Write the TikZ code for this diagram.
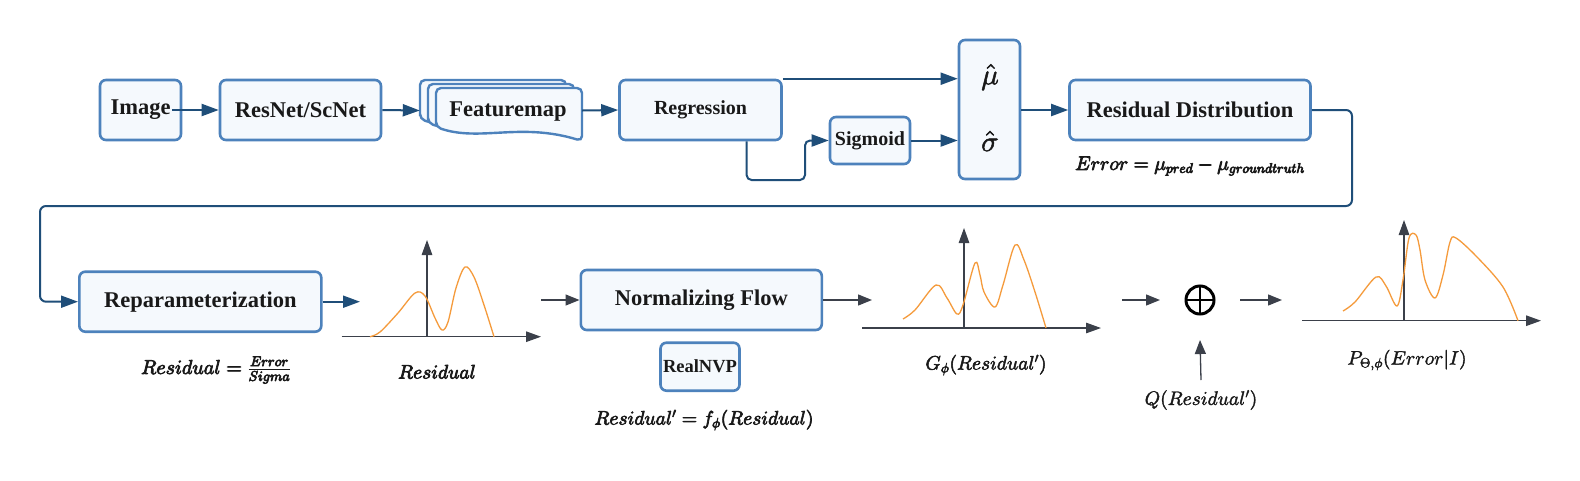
\documentclass[tikz,border=0pt]{standalone}
\usepackage{amsmath}
\usepackage{graphicx}
\usepackage[no-math]{fontspec}
\setmainfont{Liberation Serif}
\DeclareFontShape{OML}{cmm}{m}{it}{<->cmmi10}{}
\DeclareFontShape{OML}{cmm}{b}{it}{<->cmmib10}{}
\DeclareFontShape{OMS}{cmsy}{m}{n}{<->cmsy10}{}
\DeclareFontShape{OMS}{cmsy}{b}{n}{<->cmbsy10}{}
\DeclareFontShape{OMX}{cmex}{m}{n}{<->cmex10}{}
\DeclareFontShape{OT1}{cmr}{m}{n}{<->cmr10}{}
\DeclareFontShape{OT1}{cmr}{bx}{n}{<->cmbx10}{}
\usetikzlibrary{arrows.meta,calc}
\definecolor{boxblue}{RGB}{77,130,188}
\definecolor{boxfill}{RGB}{245,249,253}
\definecolor{arrowblue}{RGB}{31,78,121}
\definecolor{arrowgray}{RGB}{59,64,74}
\definecolor{curveorange}{RGB}{245,155,60}
\definecolor{textdark}{RGB}{25,25,25}
\newcommand{\heavy}[2]{\special{pdf:literal direct 2 Tr #1 w}#2\special{pdf:literal direct 0 Tr}}
\begin{document}
\begin{tikzpicture}[x=1pt,y=-1pt,
  stepbox/.style={draw=boxblue, fill=boxfill, line width=2.6pt, rounded corners=6pt, inner sep=0pt, text=textdark, font=\bfseries\fontsize{22.5}{27}\selectfont},
  smallbox/.style={stepbox, font=\bfseries\fontsize{20}{24}\selectfont},
  bluearrow/.style={draw=arrowblue, line width=2pt, -{Triangle[length=17pt,width=12pt]}},
  grayarrow/.style={draw=arrowgray, line width=1.3pt, -{Triangle[length=14pt,width=11pt]}},
  axisline/.style={draw=arrowgray, line width=1.2pt, -{Triangle[length=15pt,width=10.5pt]}},
  curve/.style={draw=curveorange, line width=1.3pt},
  mathlabel/.style={text=textdark, inner sep=0pt, font=\fontsize{19.5}{24}\selectfont},
  boldlabel/.style={text=textdark, inner sep=0pt, font=\fontsize{19.5}{24}\selectfont},
  docshape/.style={draw=boxblue, fill=boxfill, line width=2.4pt, rounded corners=5pt}
]
\fill[white] (0,0) rectangle (1580,480);
\useasboundingbox (0,0) rectangle (1580,480);

% ---- top row ----
\node[stepbox, minimum width=81pt, minimum height=60pt] (img) at (140.5,110) {Image};
\node[stepbox, minimum width=161pt, minimum height=60pt] (resnet) at (300.5,110) {ResNet/ScNet};

\foreach \dx/\dy in {-16/-8, -8/-4, 0/0} {
  \draw[docshape, shift={(\dx,\dy)}] (436,127) -- (436,88) -- (582,88) -- (582,141)
     .. controls (520,122) and (480,142) .. (436,127) -- cycle;
}
\node[minimum width=162pt, minimum height=61pt, inner sep=0pt] (fm) at (501,110.5) {};
\node[text=textdark, inner sep=0pt, font=\bfseries\fontsize{22.5}{27}\selectfont] (fmtext) at (508,112) {Featuremap};

\node[smallbox, minimum width=162pt, minimum height=60pt] (reg) at (700.5,110) {Regression};
\node[smallbox, minimum width=80pt, minimum height=47pt] (sig) at (870,140.5) {Sigmoid};
\node[stepbox, minimum width=61pt, minimum height=139pt] (ms) at (989.5,109.5) {};
\node[mathlabel, font=\fontsize{29}{32}\selectfont] (muhat) at (990,77) {\heavy{0.5}{$\hat{\mu}$}};
\node[mathlabel, font=\fontsize{29}{32}\selectfont] (sighat) at (990,141) {\heavy{0.5}{$\hat{\sigma}$}};
\node[stepbox, minimum width=241pt, minimum height=60pt] (rd) at (1190,110) {Residual Distribution};
\node[boldlabel] (errf) at (1190,166) {\heavy{0.75}{$Error = \mu_{pred} - \mu_{groundtruth}$}};

% ---- bottom row ----
\node[stepbox, minimum width=242pt, minimum height=60pt] (rp) at (200.3,301.7) {Reparameterization};
\node[boldlabel, font=\fontsize{20}{24}\selectfont] (resf) at (216,370) {\heavy{0.75}{$Residual = \frac{Error}{Sigma}$}};
\node[boldlabel] (reslab) at (437,371.7) {\heavy{0.75}{$Residual$}};
\node[stepbox, minimum width=241pt, minimum height=60pt] (nf) at (701.3,300) {Normalizing Flow};
\node[stepbox, font=\bfseries\fontsize{18.5}{22}\selectfont, minimum width=79pt, minimum height=48pt] (rnvp) at (700,366.7) {RealNVP};
\node[boldlabel] (resp) at (704,420) {\heavy{0.65}{$Residual' = f_{\phi}(Residual)$}};
\node[mathlabel] (glab) at (986,365) {\heavy{0.5}{$G_{\phi}(Residual')$}};
\node[circle, draw=black, line width=3pt, minimum size=28pt, inner sep=0pt, outer sep=26pt,
      path picture={\draw[line width=2.5pt] (path picture bounding box.north) -- (path picture bounding box.south)
                     (path picture bounding box.west) -- (path picture bounding box.east);}] (plus) at (1200,300) {};
\node[mathlabel] (qlab) at (1201,400) {\heavy{0.35}{$Q(Residual')$}};
\node[mathlabel] (plab) at (1407,360) {\heavy{0.35}{$P_{\Theta,\phi}(Error|I)$}};

% ---- plots ----
\draw[axisline] (341.7,336.7) -- (541,336.7);
\draw[axisline] (427,336.7) -- (427,240);
\draw[curve] plot[smooth, tension=0.55] coordinates {(370,336.7) (380,332) (398,313) (415,293) (425,296) (435,318) (442,330) (448,322) (456,288) (465,267) (474,277) (484,305) (494,336.7)};

\draw[axisline] (862,328) -- (1101,328);
\draw[axisline] (964,328) -- (964,228);
\draw[curve] plot[smooth, tension=0.55] coordinates {(903,319) (915,310) (936,285) (947,298) (957,314) (963,305) (975,263) (980,275) (984,292) (995,307) (1003,285) (1015,245) (1024,260) (1035,292) (1046,328)};

\draw[axisline] (1302,320.7) -- (1541,320.7);
\draw[axisline] (1404,320.7) -- (1404,220);
\draw[curve] plot[smooth, tension=0.55] coordinates {(1343,311) (1355,302) (1376,277) (1386,286) (1397,306) (1403,280) (1409,238) (1416,235) (1420,250) (1425,280) (1435,298) (1443,275) (1450,242) (1456,238) (1477,257) (1503,287) (1518,320.7)};

% ---- connectors ----
\draw[bluearrow] ($(img.east)+(-10,0)$) -- (resnet.west);
\draw[bluearrow] (resnet.east) -- (fm.west);
\draw[bluearrow] (fm.east) -- (reg.west);
\draw[bluearrow] (reg.north east) -- (reg.north east -| ms.west);
\coordinate (regsb) at ($(reg.south west)!0.78!(reg.south east)$);
\coordinate (sigbend) at (805,180);
\draw[bluearrow, rounded corners=5pt] (regsb) |- (sigbend) |- (sig.west);
\draw[bluearrow] (sig.east) -- (sig.east -| ms.west);
\draw[bluearrow] (ms.east |- rd.west) -- (rd.west);
\coordinate (bendR) at (1352,206);
\coordinate (bendL) at (40,206);
\draw[bluearrow, rounded corners=6pt] (rd.east) -| (bendR) -- (bendL) |- (rp.west);
\coordinate (p1in) at (360,301.7);
\draw[bluearrow] (rp.east) -- (p1in);
\coordinate (p1out) at (541,300);
\draw[grayarrow] (p1out) -- (nf.west);
\coordinate (p2in) at (872,300);
\draw[grayarrow] (nf.east) -- (p2in);
\coordinate (p2out) at (1122,300);
\draw[grayarrow] (p2out) -- (plus.west);
\coordinate (p3in) at (1282,300);
\draw[grayarrow] (plus.east) -- (p3in);
\coordinate (qin) at (1201,380);
\draw[grayarrow] (qin) -- (plus.south);
\end{tikzpicture}
\end{document}
